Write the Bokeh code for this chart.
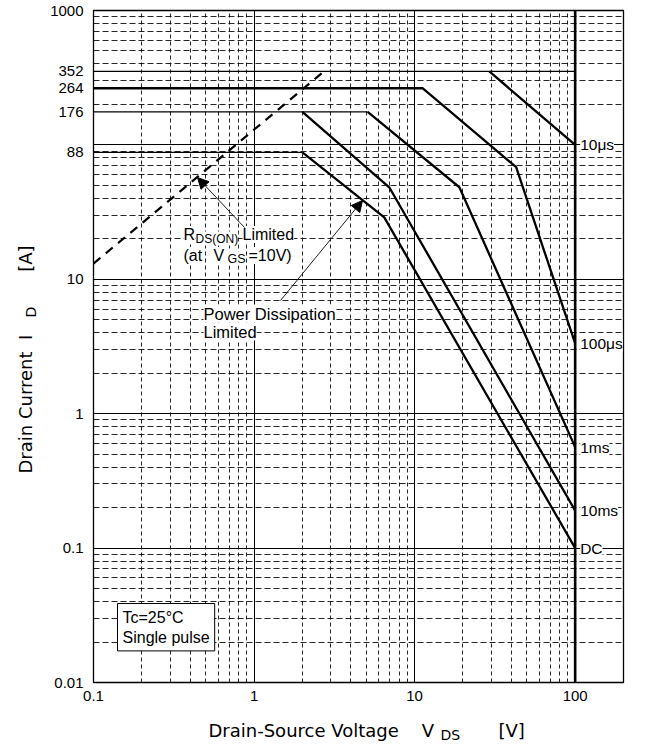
import math
from bokeh.plotting import figure
from bokeh.models import (FixedTicker, Label, Arrow, NormalHead, CustomJSTickFormatter,
                          Range1d, Span)
from bokeh.embed import file_html
from bokeh.resources import INLINE

# ---------------- data ----------------
x_ticks = [0.1, 1, 10, 100]
x_tick_labels = ["0.1", "1", "10", "100"]
y_ticks = [0.01, 0.1, 1, 10, 88, 176, 264, 352, 1000]
y_tick_labels = ["0.01", "0.1", "1", "10", "88", "176", "264", "352", "1000"]

curve_names = ["10μs", "100μs", "1ms", "10ms", "DC"]
v_10us = [29.2, 100]
i_10us = [352, 100]
v_100us = [0.1, 11.2, 42.9, 100]
i_100us = [264, 264, 68.2, 3.33]
v_1ms = [5.1, 19.0, 100]
i_1ms = [176, 48.4, 0.564]
v_10ms = [2.0, 6.95, 100]
i_10ms = [176, 48.4, 0.19]
v_dc = [2.0, 6.47, 100]
i_dc = [88, 28.9, 0.1]

# thin flat current-limit lines (start at 0.1 V)
limit_i = [352, 176, 88]
limit_v_end = [100, 5.1, 2.0]

# RDS(on) limited line (dashed)
v_rds = [0.1, 2.72]
i_rds = [13.1, 352]

vdss = 100

# ---------------- figure ----------------
W, H = 654, 747
FL, FR, FT, FB = 93, 623, 10, 682  # frame edges on the canvas (layout)
p = figure(width=W, height=H, x_axis_type="log", y_axis_type="log",
           x_range=Range1d(0.1, 200), y_range=Range1d(0.01, 1000),
           output_backend="svg", toolbar_location=None,
           min_border_left=FL, min_border_right=W - FR, min_border_top=FT, min_border_bottom=H - FB)
p.background_fill_color = "white"
p.border_fill_color = "white"
p.outline_line_color = "black"
p.outline_line_width = 1.3


def minors(decades):
    return [m * 10.0 ** e for e in decades for m in range(2, 10)]


p.xgrid.ticker = FixedTicker(ticks=[0.1, 1, 10, 100], minor_ticks=minors([-1, 0, 1]))
p.ygrid.ticker = FixedTicker(ticks=[0.01, 0.1, 1, 10, 100, 1000], minor_ticks=minors([-2, -1, 0, 1, 2]))
for g, dash in ((p.xgrid, "4 3"), (p.ygrid, "6 3")):
    g.grid_line_color = "black"
    g.grid_line_width = 1
    g.grid_line_alpha = 1
    g.minor_grid_line_color = "black"
    g.minor_grid_line_width = 1
    g.minor_grid_line_alpha = 0.85
    g.minor_grid_line_dash = dash

fmt_code = """
const i = t.findIndex(v => Math.abs(v - tick) <= 1e-6 * Math.abs(v));
return i >= 0 ? l[i] : "";
"""
p.xaxis.ticker = FixedTicker(ticks=x_ticks)
p.xaxis.formatter = CustomJSTickFormatter(args=dict(t=x_ticks, l=x_tick_labels), code=fmt_code)
p.yaxis.ticker = FixedTicker(ticks=y_ticks)
p.yaxis.formatter = CustomJSTickFormatter(args=dict(t=y_ticks, l=y_tick_labels), code=fmt_code)
for ax in (p.xaxis[0], p.yaxis[0]):
    ax.axis_line_color = None
    ax.major_tick_line_color = None
    ax.minor_tick_line_color = None
    ax.major_tick_in = 0
    ax.major_tick_out = 0
    ax.minor_tick_in = 0
    ax.minor_tick_out = 0
    ax.major_label_text_font = "Liberation Sans"
    ax.major_label_text_font_size = "15px"
    ax.major_label_text_color = "black"
p.xaxis.major_label_standoff = 8
p.yaxis.major_label_standoff = 10

# ---------------- marks ----------------
p.segment(x0=[v_rds[0]] * len(limit_i), y0=limit_i, x1=limit_v_end, y1=limit_i,
          line_color="black", line_width=1.2)
p.line(v_rds, i_rds, line_color="black", line_width=2.2, line_dash="9 7")
curves = [(v_10us, i_10us), (v_100us, i_100us), (v_1ms, i_1ms), (v_10ms, i_10ms), (v_dc, i_dc)]
for v, i in curves:
    p.line(v, i, line_color="black", line_width=2.3)
p.add_layout(Span(location=vdss, dimension="height", line_color="black", line_width=2.6))

# curve names at the 100 V end of each curve
for (v, i), name in zip(curves, curve_names):
    p.add_layout(Label(x=v[-1], y=i[-1], text=name, x_offset=5, text_baseline="middle",
                       text_align="left", text_font="Liberation Sans", text_font_size="15.5px",
                       text_color="black", background_fill_color="white", padding=0))


def txt(s, px, py, size, font="Liberation Sans", angle=0, bg="white", side=None,
        baseline="middle", **kw):
    """text placed by canvas pixel position; side panels host the ones outside the frame"""
    if side is not None:
        x, y, u = px, py, "canvas"
    else:
        x, y, u = px - FL, FB - py, "screen"
    lab = Label(x=x, y=y, x_units=u, y_units=u, text=s,
                text_font=font, text_font_size=f"{size}px", text_align="left",
                text_baseline=baseline, angle=angle, angle_units="deg",
                text_color="black", background_fill_color=bg, **kw)
    if side is None:
        p.add_layout(lab)
    else:
        p.add_layout(lab, side)


# RDS(on) annotation
txt("R", 183, 234, 16)
txt("DS(ON)", 195, 238, 12)
txt("Limited", 242, 234, 16)
txt("(at", 183, 255, 16)
txt("V", 213, 255, 16)
txt("GS", 227, 258, 12.5)
txt("=10V)", 248, 255, 16)
# Power dissipation annotation
txt("Power Dissipation", 203, 313, 16.5)
txt("Limited", 203, 331, 16.5)

# condition box
txt("Tc=25°C\nSingle pulse", 117, 603, 16, baseline="top",
    border_line_color="black", border_line_width=1, padding=5)

# axis titles (outside the frame, hosted by side panels)
TF = "DejaVu Sans"
NB = "\u00a0"
txt("Drain-Source Voltage" + NB * 4 + "V", 208, 730, 18, font=TF, bg=None, side="below")
txt("DS", 440, 734, 14, font=TF, bg=None, side="below")
txt("[V]", 498, 730, 18, font=TF, bg=None, side="right")
txt("Drain Current" + NB * 2 + "I" + NB * 11 + "[A]", 25, 473, 18, font=TF, angle=90,
    bg=None, side="left")
txt("D", 30, 317, 14, font=TF, angle=90, bg=None, side="left")

# arrows
head = dict(size=11, fill_color="black", line_color="black")
p.add_layout(Arrow(end=NormalHead(**head), x_start=244 - FL, y_start=FB - 227,
                   x_end=197 - FL, y_end=FB - 177, start_units="screen", end_units="screen",
                   line_color="#222222", line_width=1))
p.add_layout(Arrow(end=NormalHead(**head), x_start=280 - FL, y_start=FB - 300,
                   x_end=362 - FL, y_end=FB - 200, start_units="screen", end_units="screen",
                   line_color="#222222", line_width=1))

open("out.html", "w").write(file_html(p, INLINE))
